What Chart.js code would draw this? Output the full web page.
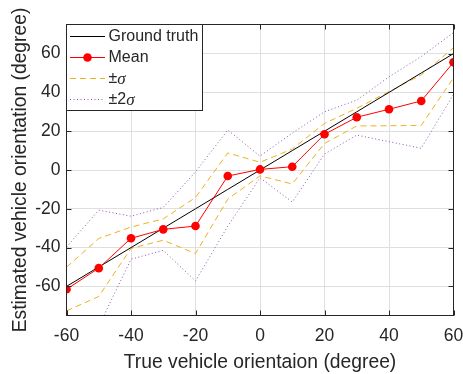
<!DOCTYPE html>
<html>
<head>
<meta charset="utf-8">
<script src="https://cdn.jsdelivr.net/npm/chart.js@4.4.1/dist/chart.umd.min.js"></script>
<style>
  html, body { margin: 0; padding: 0; background: #ffffff; }
  #wrap { width: 463px; height: 374px; }
</style>
</head>
<body>
<div id="wrap"><canvas id="c" width="463" height="374"></canvas></div>
<script>
// True orientation (degree) at which each estimate was evaluated
const angles = [-60, -50, -40, -30, -20, -10, 0, 10, 20, 30, 40, 50, 60];
// Ideal estimator: estimate equals the true orientation
const groundTruth = [-60, -50, -40, -30, -20, -10, 0, 10, 20, 30, 40, 50, 60];
// Mean estimated orientation
const meanEst = [-61.5, -50.6, -35.2, -30.6, -28.9, -3.1, 0.3, 1.7, 18.4, 27.2, 31.3, 35.6, 55.5];
// Mean ± one standard deviation
const sigmaUpper = [-50.1, -35.3, -29.4, -25.2, -14.2, 8.8, 4.0, 10.8, 24.0, 31.8, 40.4, 49.0, 63.0];
const sigmaLower = [-72.6, -65.2, -40.4, -36.2, -43.1, -15.0, -3.0, -7.2, 13.7, 22.7, 22.8, 23.0, 47.5];
// Mean ± two standard deviations
const twoSigmaUpper = [-39.7, -20.7, -23.8, -19.3, -1.0, 20.6, 7.2, 19.0, 30.0, 36.0, 48.0, 58.5, 70.8];
const twoSigmaLower = [-90.0, -80.5, -46.0, -41.4, -57.2, -29.0, -4.0, -16.5, 8.2, 18.0, 14.6, 11.2, 39.0];

const xTicks = [-60, -40, -20, 0, 20, 40, 60];
const yTicks = [-60, -40, -20, 0, 20, 40, 60];

const INK = '#262626';
const ORANGE = '#EDB120';
const PURPLE = '#9050B0';
const FONT = "'Liberation Sans', Arial, Helvetica, sans-serif";

const pts = vals => angles.map((a, i) => ({ x: a, y: vals[i] }));

const datasets = [
  { label: 'Mean', data: pts(meanEst), borderColor: '#FF0000', backgroundColor: '#FF0000',
    borderWidth: 1, pointRadius: 4.3, pointBorderWidth: 0, pointBackgroundColor: '#FF0000', order: 0 },
  { label: 'Ground truth', data: pts(groundTruth), borderColor: '#000000', borderWidth: 1,
    pointRadius: 0, order: 1 },
  { label: '±σ', data: pts(sigmaUpper), borderColor: ORANGE, borderWidth: 1,
    borderDash: [6, 4], pointRadius: 0, order: 2 },
  { label: '±σ', data: pts(sigmaLower), borderColor: ORANGE, borderWidth: 1,
    borderDash: [6, 4], pointRadius: 0, order: 2 },
  { label: '±2σ', data: pts(twoSigmaUpper), borderColor: PURPLE, borderWidth: 1,
    borderDash: [1, 2.5], pointRadius: 0, order: 3 },
  { label: '±2σ', data: pts(twoSigmaLower), borderColor: PURPLE, borderWidth: 1,
    borderDash: [1, 2.5], pointRadius: 0, order: 3 }
];

// Axes box with inward tick marks on all four sides
const axesBox = {
  id: 'axesBox',
  afterDatasetsDraw(chart) {
    const { ctx, chartArea: a, scales } = chart;
    const len = 5;
    ctx.save();
    ctx.strokeStyle = INK;
    ctx.lineWidth = 1;
    ctx.beginPath();
    xTicks.forEach(v => {
      const px = Math.round(scales.x.getPixelForValue(v)) + 0.5;
      ctx.moveTo(px, a.bottom); ctx.lineTo(px, a.bottom - len);
      ctx.moveTo(px, a.top); ctx.lineTo(px, a.top + len);
    });
    yTicks.forEach(v => {
      const py = Math.round(scales.y.getPixelForValue(v)) + 0.5;
      ctx.moveTo(a.left, py); ctx.lineTo(a.left + len, py);
      ctx.moveTo(a.right, py); ctx.lineTo(a.right - len, py);
    });
    ctx.stroke();
    ctx.strokeRect(a.left, a.top, a.right - a.left, a.bottom - a.top);
    ctx.restore();
  }
};

// Legend box in the upper-left corner of the axes
const cornerLegend = {
  id: 'cornerLegend',
  afterDraw(chart) {
    const { ctx, chartArea: a } = chart;
    const x0 = a.left, y0 = a.top, w = 136, h = 86;
    ctx.save();
    ctx.fillStyle = '#ffffff';
    ctx.fillRect(x0, y0, w, h);
    ctx.strokeStyle = INK;
    ctx.lineWidth = 1;
    ctx.strokeRect(x0, y0, w, h);

    const rows = [
      { y: 36.5, color: '#000000', dash: [], marker: false, parts: [['Ground truth', false]] },
      { y: 57.5, color: '#FF0000', dash: [], marker: true, parts: [['Mean', false]] },
      { y: 78.5, color: ORANGE, dash: [6, 4], marker: false, parts: [['±', false], ['σ', true]] },
      { y: 99.5, color: PURPLE, dash: [1, 2.5], marker: false, parts: [['±2', false], ['σ', true]] }
    ];
    const sx0 = x0 + 3.5, sx1 = x0 + 38.5, tx = x0 + 42;
    rows.forEach(r => {
      ctx.beginPath();
      ctx.setLineDash(r.dash);
      ctx.strokeStyle = r.color;
      ctx.moveTo(sx0, r.y); ctx.lineTo(sx1, r.y);
      ctx.stroke();
      ctx.setLineDash([]);
      if (r.marker) {
        ctx.beginPath();
        ctx.fillStyle = r.color;
        ctx.arc((sx0 + sx1) / 2, r.y, 4.3, 0, Math.PI * 2);
        ctx.fill();
      }
      let x = tx;
      ctx.fillStyle = INK;
      ctx.textBaseline = 'middle';
      r.parts.forEach(([txt, ital]) => {
        ctx.font = ital ? "italic 17px 'Liberation Serif', 'Times New Roman', serif" : '16px ' + FONT;
        ctx.fillText(txt, x, r.y + (ital ? 1 : 0.5));
        x += ctx.measureText(txt).width;
      });
    });
    ctx.restore();
  }
};

new Chart(document.getElementById('c'), {
  type: 'line',
  data: { datasets },
  plugins: [axesBox, cornerLegend],
  options: {
    responsive: false,
    animation: false,
    devicePixelRatio: 1,
    layout: { padding: { top: 24.5, right: 9.5, bottom: 0, left: 0 } },
    plugins: { legend: { display: false }, tooltip: { enabled: false } },
    scales: {
      x: {
        type: 'linear', min: -60, max: 60,
        afterFit: s => { s.height = 58.5; s.paddingLeft = 0; s.paddingRight = 0; },
        afterBuildTicks: s => { s.ticks = xTicks.map(v => ({ value: v })); },
        ticks: { color: INK, font: { family: FONT, size: 17.5 }, padding: 10.5, maxRotation: 0 },
        grid: { color: '#DFDFDF', drawTicks: false },
        border: { display: false },
        title: { display: true, text: 'True vehicle orientaion (degree)', color: INK,
                 font: { family: FONT, size: 19.3 }, padding: { top: 0, bottom: 0 } }
      },
      y: {
        type: 'linear', min: -75, max: 75,
        afterFit: s => { s.width = 66.5; s.paddingTop = 0; s.paddingBottom = 0; },
        afterBuildTicks: s => { s.ticks = yTicks.map(v => ({ value: v })); },
        ticks: { color: INK, font: { family: FONT, size: 17.5 }, padding: 6 },
        grid: { color: '#DFDFDF', drawTicks: false },
        border: { display: false },
        title: { display: true, text: 'Estimated vehicle orientation (degree)', color: INK,
                 font: { family: FONT, size: 19.3 }, padding: { top: 9, bottom: 0 } }
      }
    }
  }
});
</script>
</body>
</html>
